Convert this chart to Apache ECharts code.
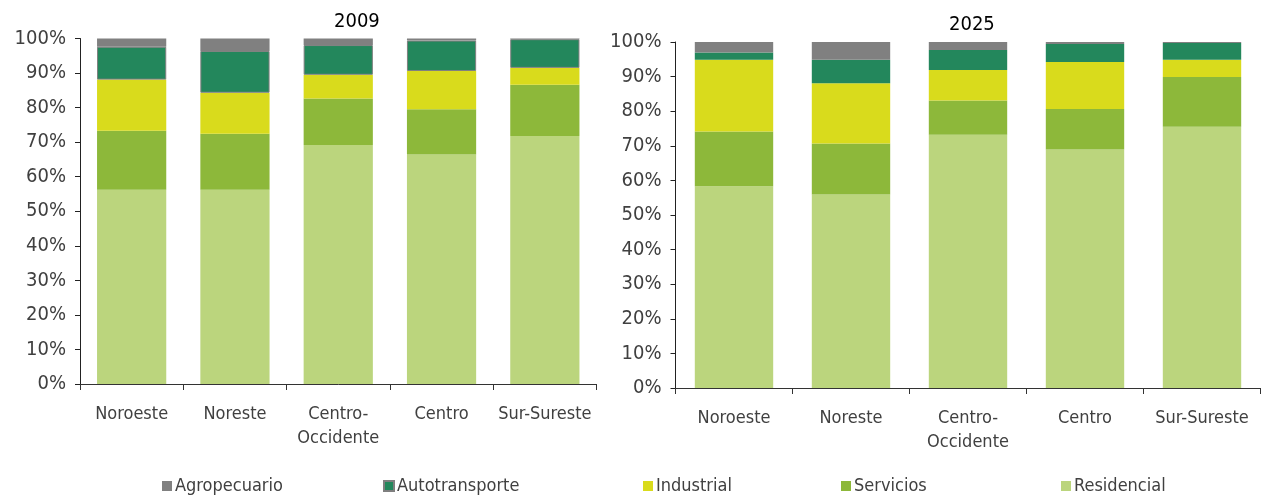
<!DOCTYPE html>
<html>
<head>
<meta charset="utf-8">
<script src="https://cdn.jsdelivr.net/npm/echarts@6/dist/echarts.min.js"></script>
<style>
  html, body { margin: 0; padding: 0; background: #ffffff; }
  #chart { width: 1265px; height: 498px; }
</style>
</head>
<body>
<div id="chart"></div>
<script>
// Regions
const categories = ['Noroeste', 'Noreste', 'Centro-\nOccidente', 'Centro', 'Sur-Sureste'];
const yTicks = [0, 10, 20, 30, 40, 50, 60, 70, 80, 90, 100];

// Share of consumption by sector, 2009 (%)
const residencial2009 = [56.2, 56.2, 69.2, 66.4, 71.8];
const servicios2009 = [17.1, 16.2, 13.4, 13.1, 14.8];
const industrial2009 = [14.8, 11.9, 6.9, 11.1, 4.9];
const autotransporte2009 = [9.5, 12.1, 8.6, 8.8, 8.3];
const agropecuario2009 = [2.4, 3.6, 1.9, 0.6, 0.2];

// Share of consumption by sector, 2025 (%)
const residencial2025 = [58.3, 55.9, 73.2, 68.9, 75.5];
const servicios2025 = [15.8, 14.8, 9.9, 11.7, 14.4];
const industrial2025 = [20.8, 17.4, 8.8, 13.6, 5.0];
const autotransporte2025 = [2.1, 6.8, 5.8, 5.2, 4.8];
const agropecuario2025 = [3.0, 5.1, 2.3, 0.6, 0.3];

const sectorNames = ['Agropecuario', 'Autotransporte', 'Industrial', 'Servicios', 'Residencial'];
const colors = {
  Agropecuario: '#808080',
  Autotransporte: '#23875c',
  Industrial: '#d9db1c',
  Servicios: '#8db83a',
  Residencial: '#bbd57d'
};

const FONT = "'Liberation Sans Narrow', 'DejaVu Sans Condensed', 'Roboto Condensed', 'Liberation Sans', sans-serif";
const TEXT = '#404040';

function makeY(gridIndex) {
  return {
    type: 'value', gridIndex: gridIndex, min: yTicks[0], max: yTicks[yTicks.length - 1], interval: 10,
    axisLine: { show: true, lineStyle: { color: '#222222', width: 1 } },
    axisTick: { show: true, length: 5, lineStyle: { color: '#222222' } },
    splitLine: { show: false },
    axisLabel: { formatter: '{value}%', fontFamily: FONT, fontSize: 20, color: TEXT, margin: 14 }
  };
}
function makeX(gridIndex) {
  return {
    type: 'category', gridIndex: gridIndex, data: categories,
    axisLine: { show: true, lineStyle: { color: '#333333', width: 1 } },
    axisTick: { show: true, length: 6, lineStyle: { color: '#333333' } },
    axisLabel: { interval: 0, fontFamily: FONT, fontSize: 18, color: TEXT, margin: 18, lineHeight: 24 }
  };
}

function stackSeries(gridIndex, data, stackName, outlineAuto) {
  const order = ['Residencial', 'Servicios', 'Industrial', 'Autotransporte', 'Agropecuario'];
  return order.map(function (name) {
    const s = {
      name: name, type: 'bar', stack: stackName,
      xAxisIndex: gridIndex, yAxisIndex: gridIndex,
      barWidth: '67%', data: data[name],
      itemStyle: { color: colors[name] },
      emphasis: { disabled: true }
    };
    if (outlineAuto && name === 'Autotransporte') {
      s.itemStyle.borderColor = '#7f7f7f';
      s.itemStyle.borderWidth = 1;
    }
    return s;
  });
}

const data2009 = {
  Residencial: residencial2009, Servicios: servicios2009, Industrial: industrial2009,
  Autotransporte: autotransporte2009, Agropecuario: agropecuario2009
};
const data2025 = {
  Residencial: residencial2025, Servicios: servicios2025, Industrial: industrial2025,
  Autotransporte: autotransporte2025, Agropecuario: agropecuario2025
};

// One legend entry per sector, spread across the bottom
const legendLeft = [157, 378, 638, 836, 1056];
const legends = sectorNames.map(function (name, i) {
  return {
    data: [name], left: legendLeft[i], top: 472,
    itemWidth: 10, itemHeight: 10, itemGap: 4,
    icon: 'rect',
    textStyle: { fontFamily: FONT, fontSize: 18, color: TEXT, padding: [0, 0, 0, -2] }
  };
});

const chart = echarts.init(document.getElementById('chart'), null, { renderer: 'canvas' });
chart.setOption({
  animation: false,
  backgroundColor: '#ffffff',
  title: [
    { text: '2009', left: 329, top: 7, textStyle: { fontFamily: FONT, fontSize: 20, fontWeight: 'normal', color: '#000000' } },
    { text: '2025', left: 944, top: 10, textStyle: { fontFamily: FONT, fontSize: 20, fontWeight: 'normal', color: '#000000' } }
  ],
  legend: legends,
  grid: [
    { left: 80, top: 38.5, width: 516.5, height: 345.5 },
    { left: 675.5, top: 42, width: 585, height: 346 }
  ],
  xAxis: [makeX(0), makeX(1)],
  yAxis: [makeY(0), makeY(1)],
  series: stackSeries(0, data2009, 'y2009', true).concat(stackSeries(1, data2025, 'y2025', false))
});
</script>
</body>
</html>
